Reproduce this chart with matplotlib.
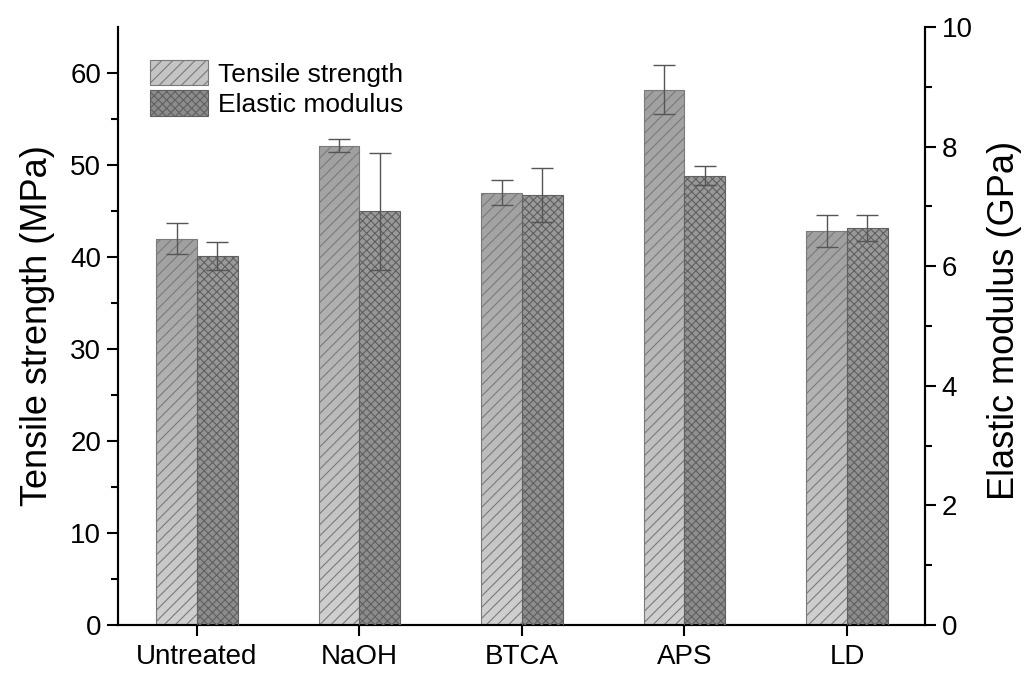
import numpy as np
import matplotlib
matplotlib.use("Agg")
from matplotlib import pyplot as plt
from matplotlib.colors import LinearSegmentedColormap
from matplotlib.patches import Patch

plt.rcParams['font.family'] = ['Liberation Sans', 'DejaVu Sans']
plt.rcParams['hatch.linewidth'] = 0.8

treatments = ['Untreated', 'NaOH', 'BTCA', 'APS', 'LD']

# tensile strength, MPa
tensile = [42.0, 52.1, 47.0, 58.2, 42.8]
tensile_err = [1.7, 0.73, 1.4, 2.65, 1.75]

# elastic modulus, GPa
modulus = [6.17, 6.92, 7.19, 7.51, 6.64]
modulus_err = [0.23, 0.98, 0.45, 0.16, 0.22]

x = np.arange(len(treatments))
w = 0.25

fig = plt.figure(figsize=(10.24, 6.75), dpi=100)
ax = fig.add_axes([0.1152, 0.0741, 0.7881, 0.8859])
ax2 = ax.twinx()

cmap_ts = LinearSegmentedColormap.from_list('ts', ['#d0d0d0', '#a0a0a0'])
cmap_em = LinearSegmentedColormap.from_list('em', ['#8c8c8c', '#9a9a9a'])
grad = np.linspace(0, 1, 256).reshape(-1, 1)


def gradient_bars(axis, xs, heights, cmap, hatch, hcol):
    bars = axis.bar(xs, heights, w, facecolor='none', edgecolor=hcol,
                    hatch=hatch, linewidth=0.8, zorder=3)
    for b in bars:
        x0, y0 = b.get_x(), b.get_y()
        im = axis.imshow(grad, extent=[x0, x0 + b.get_width(), y0, y0 + b.get_height()],
                         origin='lower', aspect='auto', cmap=cmap, zorder=2,
                         interpolation='bilinear')
        im.set_clip_path(b)
    return bars


gradient_bars(ax, x - w / 2, tensile, cmap_ts, '///', '#7a7a7a')
ax.errorbar(x - w / 2, tensile, yerr=tensile_err, fmt='none', ecolor='#555555',
            elinewidth=1.0, capsize=8, capthick=1.0, zorder=5)

gradient_bars(ax2, x + w / 2, modulus, cmap_em, 'xxxx', '#606060')
ax2.errorbar(x + w / 2, modulus, yerr=modulus_err, fmt='none', ecolor='#555555',
             elinewidth=1.0, capsize=8, capthick=1.0, zorder=5)

ax.set_xlim(-0.486, 4.48)
ax.set_ylim(0, 65)
ax2.set_ylim(0, 10)

ax.set_xticks(x)
ax.set_xticklabels(treatments)
ax.set_yticks(np.arange(0, 61, 10))
ax.set_yticks(np.arange(5, 61, 10), minor=True)
ax2.set_yticks(np.arange(0, 11, 2))
ax2.set_yticks(np.arange(1, 10, 2), minor=True)

for a in (ax, ax2):
    a.spines['top'].set_visible(False)
    for s in a.spines.values():
        s.set_linewidth(1.5)
    a.tick_params(which='major', length=8, width=1.5, labelsize=20, pad=4)
    a.tick_params(which='minor', length=5, width=1.5)
ax.tick_params(axis='x', which='major', length=8, pad=6, labelsize=20)

ax.set_ylabel('Tensile strength (MPa)', fontsize=26, labelpad=11)
ax2.set_ylabel('Elastic modulus (GPa)', fontsize=26, labelpad=10)
ax2.yaxis.label.set_y(0.51)

handles = [Patch(facecolor='#c4c4c4', edgecolor='#7a7a7a', hatch='///', linewidth=0.8),
           Patch(facecolor='#8c8c8c', edgecolor='#606060', hatch='xxxx', linewidth=0.8)]
ax2.legend(handles, ['Tensile strength', 'Elastic modulus'], loc='upper left',
           bbox_to_anchor=(0.04, 0.945), frameon=False, fontsize=19,
           borderpad=0, borderaxespad=0,
           handlelength=2.2, handleheight=1.1, handletextpad=0.35, labelspacing=0.15)

fig.savefig('out.png', dpi=100)
